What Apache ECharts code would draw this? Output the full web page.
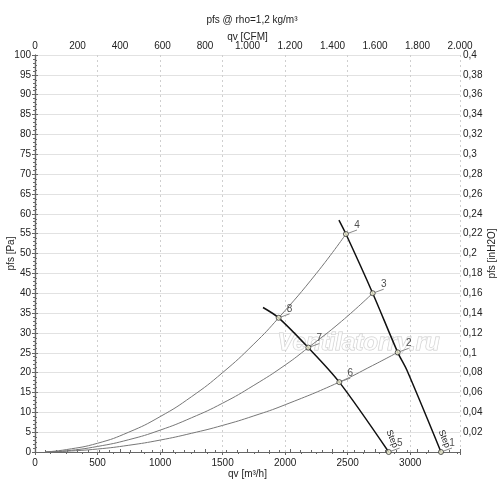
<!DOCTYPE html>
<html>
<head>
<meta charset="utf-8">
<script src="https://cdn.jsdelivr.net/npm/echarts@6/dist/echarts.min.js"></script>
<style>
    html, body { margin: 0; padding: 0; background: #fff; }
    #chart { width: 500px; height: 487px; }
</style>
</head>
<body>
<div id="chart"></div>
<script>
// system curves (qv m3/h, pfs Pa)
const sysCurveHigh = [[80, 0], [250, 0.6], [500, 2.2], [750, 5.0], [1000, 8.9], [1250, 13.9], [1500, 20.0], [1750, 27.2], [1948, 33.8], [2250, 45.0], [2486, 54.9]];
const sysCurveMid = [[80, 0], [250, 0.3], [500, 1.4], [750, 3.1], [1000, 5.5], [1250, 8.6], [1500, 12.3], [1750, 16.8], [2000, 21.9], [2185, 26.3], [2450, 32.9], [2700, 40.0]];
const sysCurveLow = [[80, 0], [250, 0.2], [500, 0.75], [750, 1.7], [1000, 3.0], [1250, 4.7], [1500, 6.7], [1750, 9.1], [2000, 11.9], [2433, 17.6], [2700, 21.8], [2900, 25.1]];

// fan curves
const fanStep1 = [[2430, 58.4], [2486, 54.9], [2700, 40.0], [2900, 25.1], [2972, 20.7], [3246, 0]];
const fanStep5 = [[1823, 36.4], [1948, 33.8], [2185, 26.3], [2433, 17.6], [2828, 0]];

// operating points
const pointNames = ['1', '2', '3', '4', '5', '6', '7', '8'];
const pointQv = [3246, 2900, 2700, 2486, 2828, 2433, 2185, 1948];
const pointPfs = [0, 25.1, 40.0, 54.9, 0, 17.6, 26.3, 33.8];

// axes
const qvMax = 3398;      // = 2000 CFM
const cfmMax = 2000;
const paMax = 100;
const inH2OMax = 0.4;

const textColor = '#222';
const axisColor = '#666';
const fontFamily = 'Liberation Sans, Arial, sans-serif';

let myChart = echarts.init(document.getElementById('chart'));

// only the last point of a fan curve gets the "Step" label
function fanData(arr) {
    return arr.map(function (p, i) {
        if (i === arr.length - 1) {
            return {
                value: p,
                label: {
                    show: true,
                    formatter: 'Step',
                    position: 'inside',
                    rotate: -68,
                    // offset is in the rotated frame
                    offset: [-11, -8],
                    fontSize: 9,
                    color: textColor
                }
            };
        }
        return p;
    });
}

function sysSeries(data) {
    return {
        type: 'line',
        data: data,
        smooth: true,
        symbol: 'none',
        z: 3,
        lineStyle: { color: '#777', width: 1 }
    };
}

function fanSeries(data) {
    return {
        type: 'line',
        data: fanData(data),
        smooth: 0.3,
        symbol: 'circle',
        symbolSize: 1,
        showSymbol: true,
        itemStyle: { color: 'transparent' },
        label: { show: false },
        z: 4,
        lineStyle: { color: '#111', width: 1.5 }
    };
}

function fmtThousands(v) {
    if (v >= 1000) {
        return Math.floor(v / 1000) + '.' + String(v % 1000).padStart(3, '0');
    }
    return String(v);
}

let option = {
    animation: false,
    textStyle: { fontFamily: fontFamily },
    title: {
        text: 'pfs @ rho=1,2 kg/m³',
        left: 247,
        textAlign: 'center',
        top: 10,
        textStyle: { fontSize: 10, fontWeight: 'normal', color: textColor, fontFamily: fontFamily }
    },
    grid: {
        left: 35,
        right: 40,
        top: 55,
        bottom: 35,
        containLabel: false,
        outerBoundsMode: 'none'
    },
    graphic: [{
        type: 'text',
        left: 277,
        top: 331,
        z: 1,
        style: {
            text: 'Ventilatorry.ru',
            font: 'italic bold 24px Liberation Sans, Arial, sans-serif',
            fill: 'rgba(255,255,255,0.7)',
            stroke: '#cccccc',
            lineWidth: 1
        }
    }],
    xAxis: [{
        type: 'value',
        position: 'bottom',
        min: 0,
        max: qvMax,
        interval: 500,
        name: 'qv [m³/h]',
        nameLocation: 'middle',
        nameGap: 17,
        nameMoveOverlap: false,
        nameTextStyle: { fontSize: 10, color: textColor },
        axisLine: { show: true, lineStyle: { color: axisColor, width: 1.2 } },
        axisTick: { show: true, length: 3, lineStyle: { color: axisColor } },
        minorTick: { show: true, splitNumber: 4, length: 2, lineStyle: { color: axisColor } },
        axisLabel: {
            fontSize: 10,
            color: textColor,
            margin: 6,
            showMaxLabel: false,
            formatter: function (v) { return v % 500 === 0 ? String(v) : ''; }
        },
        splitLine: { show: true, lineStyle: { color: '#cfcfcf', type: [2, 3] } }
    }, {
        type: 'value',
        position: 'top',
        min: 0,
        max: cfmMax,
        interval: 200,
        name: 'qv [CFM]',
        nameLocation: 'middle',
        nameGap: 13,
        nameMoveOverlap: false,
        nameTextStyle: { fontSize: 10, color: textColor },
        axisLine: { show: true, lineStyle: { color: axisColor, width: 1.2 } },
        axisTick: { show: true, length: 3, lineStyle: { color: axisColor } },
        minorTick: { show: true, splitNumber: 4, length: 2, lineStyle: { color: axisColor } },
        axisLabel: { fontSize: 10, color: textColor, margin: 4, formatter: fmtThousands },
        splitLine: { show: false }
    }],
    yAxis: [{
        type: 'value',
        position: 'left',
        min: 0,
        max: paMax,
        interval: 5,
        name: 'pfs [Pa]',
        nameLocation: 'middle',
        nameGap: 19,
        nameRotate: 90,
        nameMoveOverlap: false,
        nameTextStyle: { fontSize: 10, color: textColor },
        axisLine: { show: true, lineStyle: { color: axisColor, width: 1.2 } },
        axisTick: { show: true, length: 3, lineStyle: { color: axisColor } },
        minorTick: { show: true, splitNumber: 5, length: 2, lineStyle: { color: axisColor } },
        axisLabel: { fontSize: 10, color: textColor, margin: 4 },
        splitLine: { show: true, lineStyle: { color: '#e2e2e2', width: 1 } }
    }, {
        type: 'value',
        position: 'right',
        min: 0,
        max: inH2OMax,
        interval: 0.02,
        name: 'pfs [inH2O]',
        nameLocation: 'middle',
        nameGap: 27,
        nameRotate: 90,
        nameMoveOverlap: false,
        nameTextStyle: { fontSize: 10, color: textColor },
        axisLine: { show: true, lineStyle: { color: axisColor, width: 1.2 } },
        axisTick: { show: true, length: 3, lineStyle: { color: axisColor } },
        minorTick: { show: true, splitNumber: 4, length: 2, lineStyle: { color: axisColor } },
        axisLabel: {
            fontSize: 10,
            color: textColor,
            margin: 3,
            showMinLabel: false,
            formatter: function (v) { return String(+v.toFixed(2)).replace('.', ','); }
        },
        splitLine: { show: false }
    }],
    series: [
        sysSeries(sysCurveHigh),
        sysSeries(sysCurveMid),
        sysSeries(sysCurveLow),
        fanSeries(fanStep1),
        fanSeries(fanStep5),
        {
            type: 'scatter',
            z: 5,
            symbol: 'circle',
            symbolSize: 5,
            itemStyle: { color: '#f3f3d6', borderColor: '#333', borderWidth: 1 },
            data: pointNames.map(function (n, i) {
                return { name: n, value: [pointQv[i], pointPfs[i]] };
            }),
            label: {
                show: true,
                position: 'inside',
                formatter: '{b}',
                fontSize: 10,
                color: textColor
            },
            labelLayout: { dx: 11, dy: -9 },
            labelLine: { show: true, lineStyle: { color: '#888', width: 1 } }
        }
    ]
};

myChart.setOption(option);
window.addEventListener('resize', function () {
    myChart.resize();
});
</script>
</body>
</html>
